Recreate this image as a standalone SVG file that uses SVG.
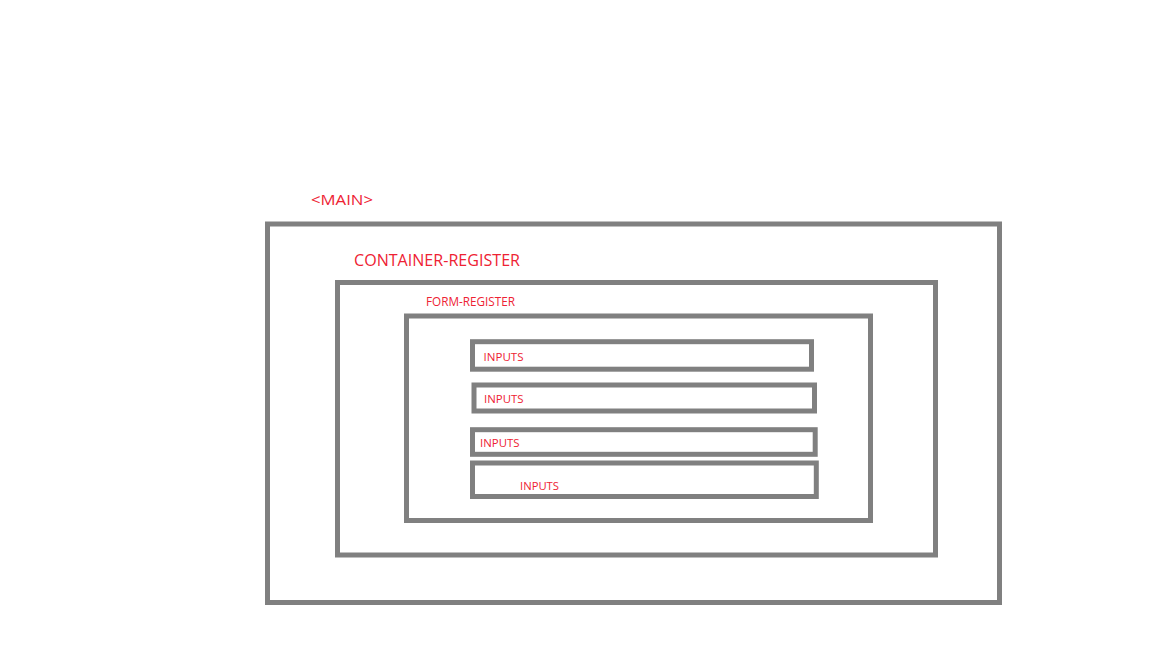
<svg xmlns="http://www.w3.org/2000/svg" width="1152" height="648" viewBox="0 0 1152 648">
<style>
.box{fill:none;stroke:#808080;stroke-width:5}
.lbl{fill:#ee2233;font-family:"Open Sans","Liberation Sans",Arial,sans-serif}
</style>
<rect width="1152" height="648" fill="#ffffff"/>
<g id="main">
<rect class="box" x="267.5" y="224" width="732" height="378.5"/>
<text class="lbl" x="311" y="205" font-size="14" textLength="62" lengthAdjust="spacingAndGlyphs">&lt;MAIN&gt;</text>
</g>
<g id="container-register">
<rect class="box" x="337.5" y="282.5" width="598" height="272.5"/>
<text class="lbl" x="354" y="266" font-size="16.8" textLength="166" lengthAdjust="spacingAndGlyphs">CONTAINER-REGISTER</text>
</g>
<g id="form-register">
<rect class="box" x="406.5" y="316" width="464" height="204.5"/>
<text class="lbl" x="426" y="305.5" font-size="13" textLength="89" lengthAdjust="spacingAndGlyphs">FORM-REGISTER</text>
</g>
<g id="input1">
<rect class="box" x="472.5" y="341.7" width="339" height="27.5"/>
<text class="lbl" x="483.5" y="360.7" font-size="11.2" textLength="40" lengthAdjust="spacingAndGlyphs">INPUTS</text>
</g>
<g id="input2">
<rect class="box" x="474" y="385" width="340.5" height="26"/>
<text class="lbl" x="484" y="403.3" font-size="11.2" textLength="39.5" lengthAdjust="spacingAndGlyphs">INPUTS</text>
</g>
<g id="input3">
<rect class="box" x="472.5" y="429.7" width="342.7" height="24.6"/>
<text class="lbl" x="480" y="446.7" font-size="11.2" textLength="39.5" lengthAdjust="spacingAndGlyphs">INPUTS</text>
</g>
<g id="input4">
<rect class="box" x="472.5" y="463" width="343.8" height="33.5"/>
<text class="lbl" x="520" y="490" font-size="11.2" textLength="39" lengthAdjust="spacingAndGlyphs">INPUTS</text>
</g>
<g id="connectors"></g>
</svg>
